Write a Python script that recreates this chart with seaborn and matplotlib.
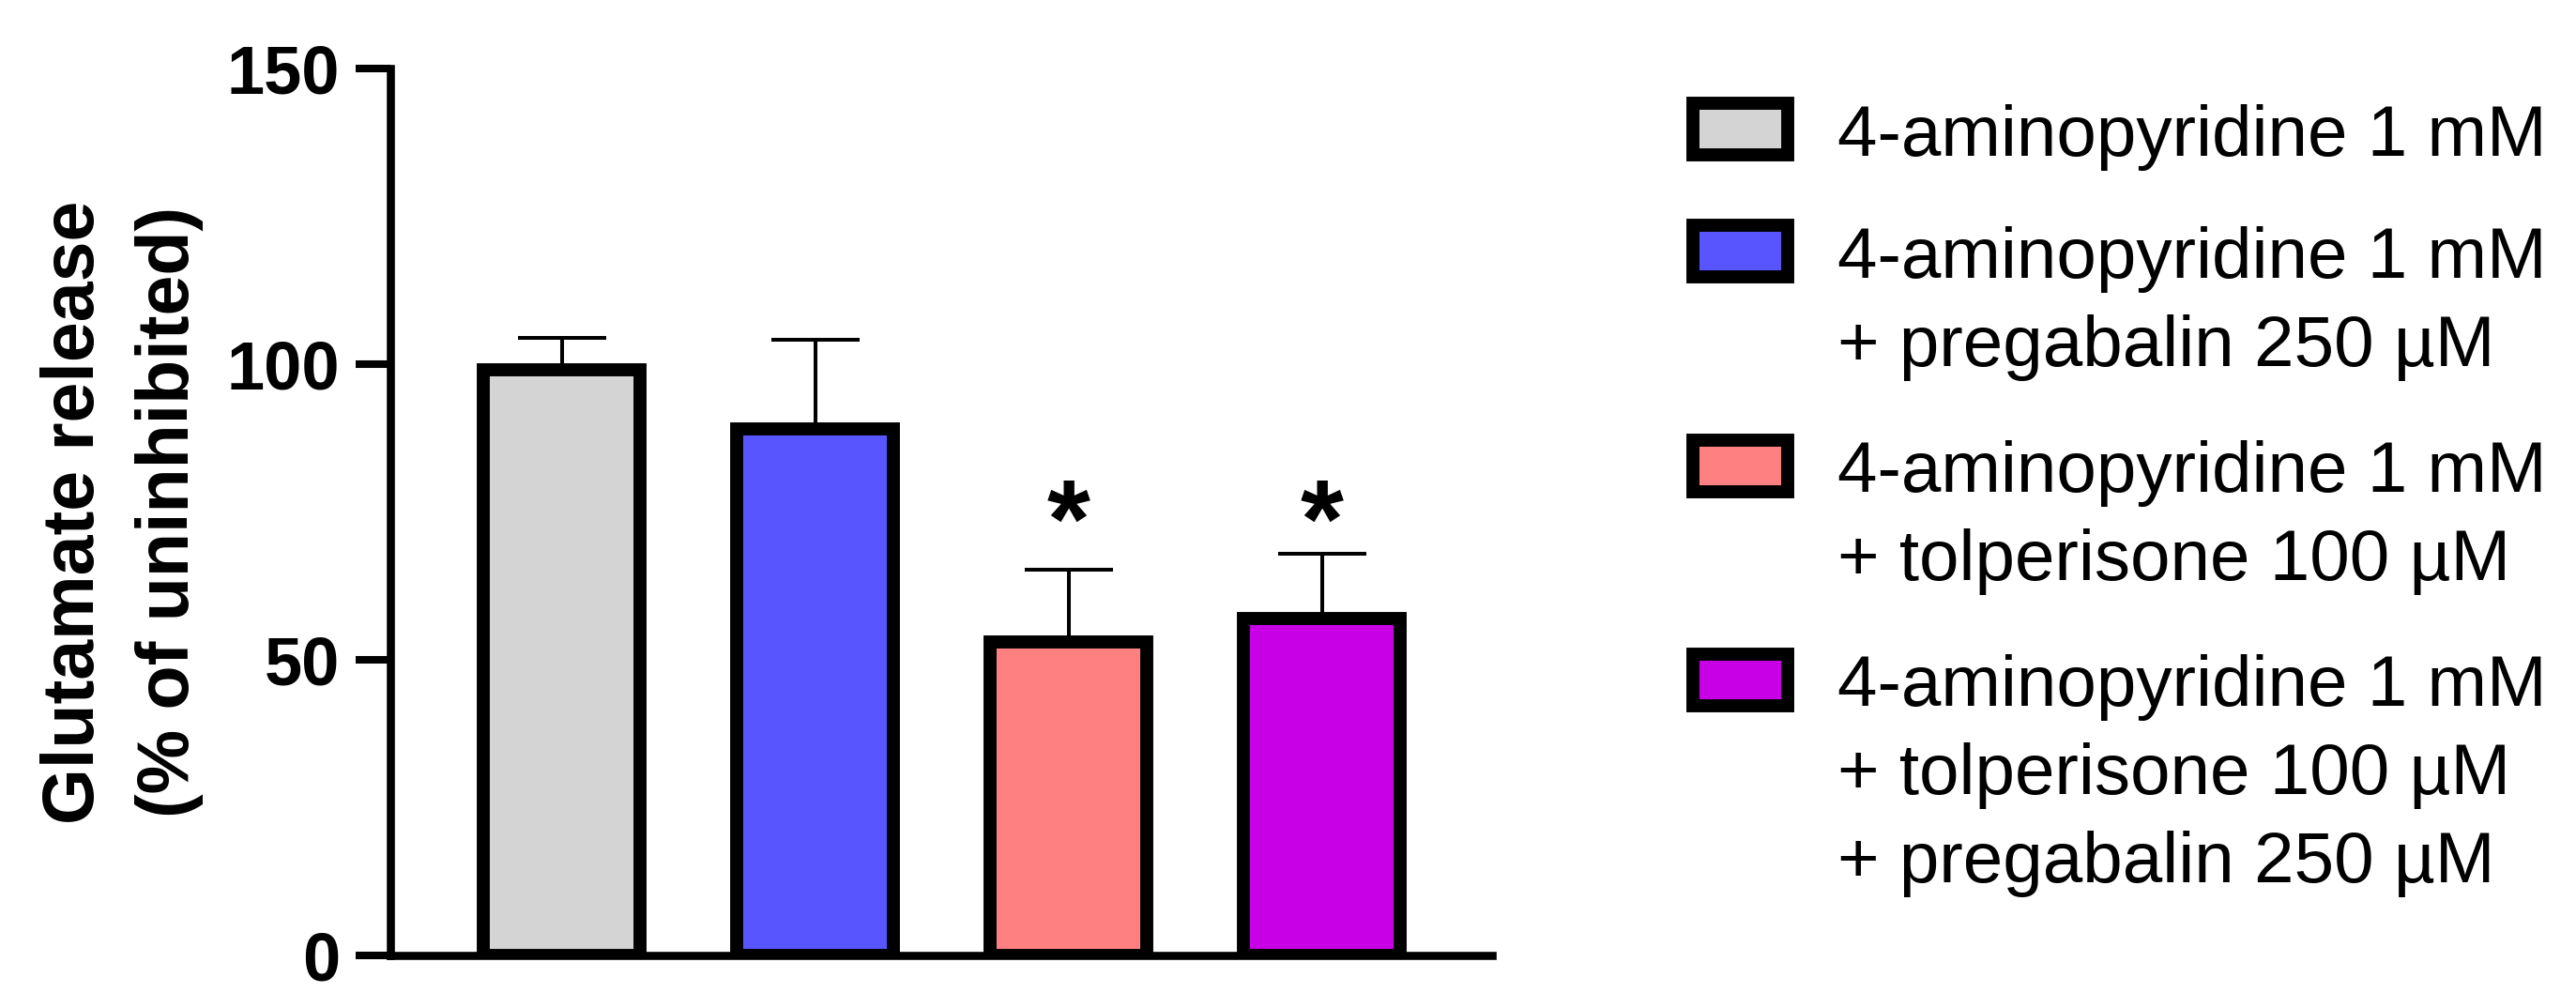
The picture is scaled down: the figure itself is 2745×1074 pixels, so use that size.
import numpy as np
import pandas as pd
import matplotlib
matplotlib.use("Agg")
import matplotlib.pyplot as plt
import seaborn as sns
from matplotlib.patches import Rectangle

# ---- data ----
groups = ["4-AP", "4-AP + PGB", "4-AP + TOL", "4-AP + TOL + PGB"]
means = [99.0, 89.0, 53.0, 57.0]
sem = [5.4, 15.1, 12.2, 10.9]
signif = ["", "", "*", "*"]
colors = ["#D4D4D4", "#5855FF", "#FF8080", "#C800E6"]
legend_labels = [
    "4-aminopyridine 1 mM",
    "4-aminopyridine 1 mM\n+ pregabalin 250 µM",
    "4-aminopyridine 1 mM\n+ tolperisone 100 µM",
    "4-aminopyridine 1 mM\n+ tolperisone 100 µM\n+ pregabalin 250 µM",
]
yticks = [0, 50, 100, 150]
ylabel = "Glutamate release\n(% of uninhibited)"

# ---- figure ----
W, H = 2745, 1074
DPI = 100
sns.set_style("ticks")
plt.rcParams['font.family'] = ['Liberation Sans', 'DejaVu Sans']
plt.rcParams.update({
    "text.color": "black",
    "axes.labelcolor": "black",
    "xtick.color": "black",
    "ytick.color": "black",
    "axes.edgecolor": "black",
})
fig = plt.figure(figsize=(W / DPI, H / DPI), dpi=DPI)
ax = fig.add_axes([416 / W, 1 - 1018 / H, (1590 - 416) / W, (1018 - 73) / H])

df = pd.DataFrame({"group": groups, "mean": means})
sns.barplot(data=df, x="group", y="mean", hue="group", palette=colors,
            order=groups, hue_order=groups, width=0.62, edgecolor="black",
            linewidth=10, legend=False, errorbar=None, saturation=1,
            ax=ax, zorder=3)

x = np.arange(len(groups))
ax.errorbar(x, means, yerr=[np.zeros(len(sem)), sem], fmt="none",
            ecolor="black", elinewidth=2.9, capsize=33.5, capthick=2.9,
            zorder=2)

for i, s in enumerate(signif):
    if s:
        ax.text(i, 67.4, s, ha="center", va="baseline", fontsize=85,
                fontweight="bold", color="black")

ax.set_xlim(-0.676, 3.672)
ax.set_ylim(0, 150)
ax.set_yticks(yticks)
ax.set_yticklabels([str(v) for v in yticks], fontsize=52, fontweight="bold",
                   color="black")
ax.tick_params(axis="y", length=26.6, width=5.8, pad=12, direction="out",
               color="black")
ax.tick_params(axis="x", bottom=False, labelbottom=False)
ax.set_xlabel("")
for side in ["top", "right"]:
    ax.spines[side].set_visible(False)
for side in ["left", "bottom"]:
    ax.spines[side].set_linewidth(6.2)
    ax.spines[side].set_color("black")
ax.spines["left"].set_bounds(0, 150)

ax.set_ylabel(ylabel, fontsize=55.5, fontweight="bold", linespacing=1.5,
              color="black")
ax.yaxis.set_label_coords(-0.1695, 0.5)

# ---- legend ----
centers = [137.5, 267.5, 496.5, 724]
for lab, col, c in zip(legend_labels, colors, centers):
    rect = Rectangle((1804 / W, 1 - (c + 27.5) / H), 101 / W, 55 / H,
                     transform=fig.transFigure, facecolor=col,
                     edgecolor="black", linewidth=10, joinstyle="miter")
    fig.add_artist(rect)
    base = c + 28
    for j, line in enumerate(lab.split("\n")):
        fig.text(1958 / W, 1 - (base + j * 94) / H, line, fontsize=55,
                 ha="left", va="baseline", color="black")

fig.savefig("out.png", dpi=DPI)
